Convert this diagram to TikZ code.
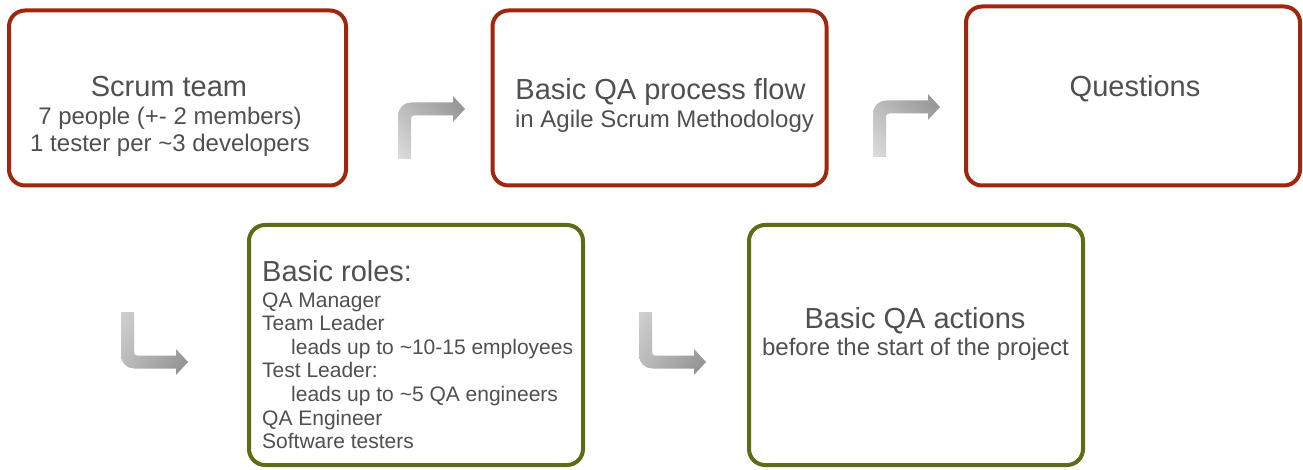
\documentclass[tikz,border=0pt]{standalone}
\usepackage{fontspec}
\setmainfont{Liberation Sans}
\usetikzlibrary{shadings}
\definecolor{boxred}{HTML}{A0260E}
\definecolor{boxgreen}{HTML}{5F6B15}
\definecolor{txt}{HTML}{505050}
\begin{document}
\begin{tikzpicture}[x=1pt,y=1pt,
  redbox/.style={draw=boxred, line width=4pt, rounded corners=16pt, fill=white, inner sep=0pt},
  greenbox/.style={draw=boxgreen, line width=4pt, rounded corners=16pt, fill=white, inner sep=0pt},
  ttl/.style={inner sep=0pt, text=txt, font=\fontsize{29}{30}\selectfont},
  sub/.style={inner sep=0pt, text=txt, font=\fontsize{24}{25}\selectfont},
  item/.style={inner sep=0pt, text=txt, font=\fontsize{21}{22}\selectfont, anchor=base west}]
\useasboundingbox (0,0) rectangle (1303,-470);

% boxes
\node[redbox, minimum width=337pt, minimum height=175pt] (b1) at (177.5,-98) {};
\node[redbox, minimum width=334pt, minimum height=175pt] (b2) at (659.5,-98) {};
\node[redbox, minimum width=334pt, minimum height=179pt] (b3) at (1133,-96) {};
\node[greenbox, minimum width=334pt, minimum height=240pt] (b4) at (416,-345) {};
\node[greenbox, minimum width=334pt, minimum height=240pt] (b5) at (916,-345) {};

% texts box 1
\node[ttl, anchor=base] (t1a) at (169,-97) {Scrum team};
\node[sub, anchor=base] (t1b) at (170,-124.5) {7 people (+- 2 members)};
\node[sub, anchor=base] (t1c) at (170,-152) {1 tester per \textasciitilde3 developers};
% box 2
\node[ttl, anchor=base] (t2a) at (660.5,-100) {Basic QA process flow};
\node[sub, anchor=base] (t2b) at (664.5,-128) {in Agile Scrum Methodology};
% box 3
\node[ttl, anchor=base] (t3a) at (1135,-97) {Questions};
% box 4
\node[ttl, anchor=base west] (t4a) at (262,-281) {Basic roles:};
\node[item] (t4b) at (262,-307) {QA Manager};
\node[item] (t4c) at (262,-330.6) {Team Leader};
\node[item] (t4d) at (291,-354.2) {leads up to \textasciitilde10-15 employees};
\node[item] (t4e) at (262,-377.8) {Test Leader:};
\node[item] (t4f) at (291,-401.4) {leads up to \textasciitilde5 QA engineers};
\node[item] (t4g) at (262,-425) {QA Engineer};
\node[item] (t4h) at (262,-448.6) {Software testers};
% box 5
\node[ttl, anchor=base] (t5a) at (915,-328) {Basic QA actions};
\node[sub, anchor=base] (t5b) at (915.5,-355) {before the start of the project};

% bent arrows up-right
\foreach \ox/\oy in {398/-159, 873/-157}{
  \shade[shift={(\ox,\oy)}, lower left={rgb,255:red,222;green,222;blue,222}, upper left={rgb,255:red,185;green,185;blue,185},
         upper right={rgb,255:red,145;green,145;blue,145}, lower right={rgb,255:red,170;green,170;blue,170}]
    (0,0) -- (0,43.5) arc[start angle=180, end angle=90, radius=13pt] -- (55,56.5) -- (55,63) -- (67,50)
    -- (55,37) -- (55,43.5) -- (16,43.5) arc[start angle=90, end angle=180, radius=3pt] -- (13,0) -- cycle;
}
% bent arrows down-right
\foreach \ox/\oy in {121/-312, 639/-312}{
  \shade[shift={(\ox,\oy)}, upper left={rgb,255:red,208;green,208;blue,208}, lower left={rgb,255:red,185;green,185;blue,185},
         lower right={rgb,255:red,140;green,140;blue,140}, upper right={rgb,255:red,175;green,175;blue,175}]
    (0,0) -- (0,-43.5) arc[start angle=180, end angle=270, radius=13pt] -- (55,-56.5) -- (55,-63) -- (67,-50)
    -- (55,-37) -- (55,-43.5) -- (16,-43.5) arc[start angle=270, end angle=180, radius=3pt] -- (13,0) -- cycle;
}
\end{tikzpicture}
\end{document}
